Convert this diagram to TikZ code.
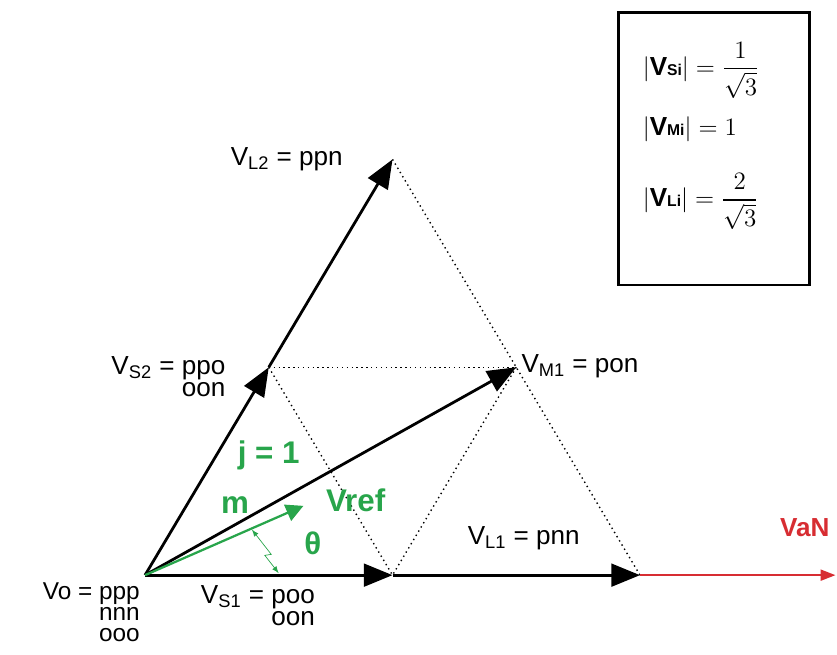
\documentclass[tikz,border=0pt]{standalone}
\usepackage{amsmath, amssymb}
\usepackage{fontspec}
\setmainfont{Liberation Sans}
\usepackage{xcolor}
\usetikzlibrary{calc, positioning, arrows.meta}
\definecolor{vgreen}{RGB}{40,165,75}
\definecolor{vred}{RGB}{215,45,50}
\newcommand{\tightlines}{\fontsize{15}{12.5}\selectfont\setlength{\lineskiplimit}{-20pt}}
\newcommand{\tighterlines}{\fontsize{14}{12.3}\selectfont\setlength{\lineskiplimit}{-20pt}}

\begin{document}
\begin{tikzpicture}[>=latex,
    vec/.style={line width=1.6pt, -{Triangle[length=0.58cm, width=0.46cm]}},
    proj/.style={dotted, line width=0.8pt},
    lbl/.style={font=\tightlines, inner sep=0pt, align=left},
    glbl/.style={font=\fontsize{18}{20}\selectfont\bfseries, text=vgreen, inner sep=0pt},
    frm/.style={anchor=west, inner sep=0pt, font=\fontsize{15}{17}\selectfont}]
    \useasboundingbox (-2.93,-1.6) rectangle (13.98,11.62);

    % 1. Các đỉnh của tam giác
    \coordinate (O) at (0,0);
    \coordinate (S1) at (5,0);
    \coordinate (L1) at (10,0);
    \coordinate (S2) at (2.5,4.2);
    \coordinate (L2) at (5,8.4);
    \coordinate (M1) at (7.5,4.2);
    \coordinate (ref) at (3.2,1.4);
    \coordinate (aN) at (13.95,0);

    % 2. Các đường chấm
    \draw[proj] (L2) -- (L1);
    \draw[proj] (S2) -- (M1);
    \draw[proj] (S2) -- (S1);
    \draw[proj] (M1) -- (S1);

    % 3. Các vector
    \draw[vred, line width=1.2pt, -{Triangle[length=0.3cm, width=0.22cm]}] (L1) -- (aN);
    \draw[vec] (O) -- (S1);
    \draw[vec] (S1) -- (L1);
    \draw[vec] (O) -- (S2);
    \draw[vec] (S2) -- (L2);
    \draw[vec] (O) -- (M1);
    \draw[vgreen, line width=1.3pt, -{Triangle[length=0.35cm, width=0.35cm]}] (O) -- (ref);
    \draw[vgreen, line width=0.4pt, <->] (2.16,0.92) -- (2.55,0.42) -- (2.42,0.4) -- (2.7,0.04);

    % 4. Nhãn
    \node[lbl, anchor=east] (lL2) at ($(L2)+(-1.0,0.0)$) {V\textsubscript{L2} = ppn};
    \node[lbl, anchor=north east] (lS2) at ($(S2)+(-0.87,0.22)$) {V\textsubscript{S2} = ppo\\\phantom{V\textsubscript{S2} = }oon};
    \node[lbl, anchor=west] (lM1) at ($(M1)+(0.1,0.02)$) {V\textsubscript{M1} = pon};
    \node[lbl] (lL1) at ($(L1)+(-2.35,0.75)$) {V\textsubscript{L1} = pnn};
    \node[lbl, anchor=north] (lS1) at ($(S1)+(-2.72,-0.2)$) {V\textsubscript{S1} = poo\\\phantom{V\textsubscript{S1} = }oon};
    \node[lbl, font=\tighterlines, anchor=north east] (lO) at ($(O)+(-0.1,-0.14)$) {Vo = ppp\\\phantom{Vo = }nnn\\\phantom{Vo = }ooo};
    \node[glbl] (lj) at (2.5,2.42) {j = 1};
    \node[glbl] (lm) at (1.82,1.41) {m};
    \node[glbl, anchor=west] (lref) at (3.65,1.52) {Vref};
    \node[glbl] (lth) at (3.39,0.65) {θ};
    \node[font=\fontsize{15}{17}\selectfont\bfseries, text=vred, inner sep=0pt] (laN) at (13.33,0.95) {VaN};

    % 5. Khung công thức
    \draw[line width=1.6pt] (9.56,11.37) rectangle (13.43,5.86);
    \node[frm] (fS) at (10.05,10.2)
        {$\lvert\textbf{V}\text{\small\bfseries Si}\rvert = \dfrac{1}{\sqrt{3}}$};
    \node[frm] (fM) at (10.05,9.0)
        {$\lvert\textbf{V}\text{\small\bfseries Mi}\rvert = 1$};
    \node[frm] (fL) at (10.05,7.55)
        {$\lvert\textbf{V}\text{\small\bfseries Li}\rvert = \dfrac{2}{\sqrt{3}}$};
\end{tikzpicture}
\end{document}
